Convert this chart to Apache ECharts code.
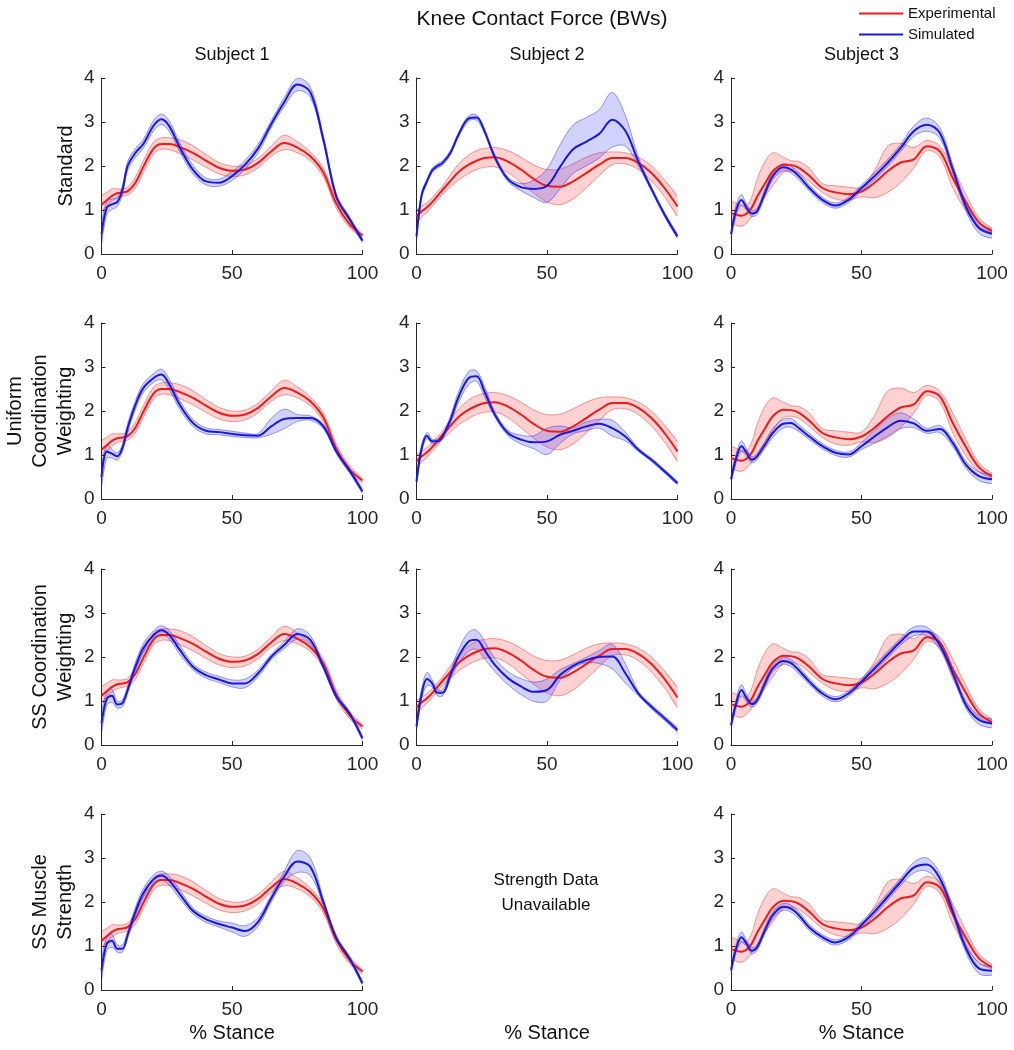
<!DOCTYPE html>
<html><head><meta charset="utf-8">
<script src="https://cdn.jsdelivr.net/npm/echarts@6/dist/echarts.min.js"></script>
<style>html,body{margin:0;padding:0;background:#fff}#c{width:1014px;height:1050px}</style>
</head><body><div id="c"></div>
<script>
// % stance sample points
const X = [0,2,4,6,8,10,13,16,20,23,26,30,35,40,45,50,55,60,65,70,75,80,85,90,95,100];

// Experimental (mean, lower, upper) per subject
const expS1Mean = [1.12,1.22,1.32,1.38,1.40,1.43,1.62,1.98,2.40,2.50,2.50,2.43,2.30,2.12,1.96,1.89,1.92,2.07,2.33,2.52,2.42,2.22,1.85,1.14,0.68,0.42];
const expS1Hi   = [1.33,1.40,1.48,1.48,1.48,1.52,1.75,2.12,2.55,2.64,2.64,2.60,2.46,2.26,2.08,2.00,2.02,2.18,2.45,2.70,2.55,2.32,1.95,1.24,0.76,0.46];
const expS1Lo   = [0.98,1.08,1.20,1.28,1.31,1.34,1.50,1.85,2.28,2.38,2.37,2.28,2.14,1.97,1.82,1.76,1.80,1.96,2.22,2.37,2.30,2.12,1.75,1.04,0.60,0.36];

const expS2Mean = [0.86,0.97,1.06,1.18,1.32,1.46,1.66,1.86,2.03,2.12,2.18,2.20,2.10,1.92,1.70,1.55,1.53,1.65,1.84,2.03,2.18,2.18,2.07,1.84,1.50,1.08];
const expS2Hi   = [1.00,1.09,1.17,1.28,1.42,1.55,1.80,2.04,2.25,2.35,2.40,2.42,2.35,2.20,2.02,1.92,1.93,2.05,2.20,2.30,2.32,2.30,2.20,2.00,1.68,1.30];
const expS2Lo   = [0.70,0.84,0.95,1.08,1.22,1.36,1.52,1.68,1.83,1.92,1.97,1.98,1.85,1.62,1.38,1.18,1.12,1.25,1.50,1.78,2.03,2.05,1.92,1.66,1.30,0.85];

const expS3Mean = [0.93,0.89,0.87,0.92,1.06,1.30,1.60,1.88,2.03,2.02,1.96,1.78,1.50,1.40,1.36,1.42,1.62,1.88,2.08,2.15,2.45,2.33,1.72,1.18,0.72,0.52];
const expS3Hi   = [1.20,1.15,1.10,1.10,1.30,1.70,2.10,2.30,2.20,2.12,2.10,1.95,1.60,1.55,1.52,1.52,1.90,2.45,2.52,2.42,2.58,2.45,1.95,1.35,0.82,0.58];
const expS3Lo   = [0.70,0.65,0.63,0.70,0.85,1.00,1.30,1.55,1.85,1.88,1.83,1.65,1.40,1.25,1.22,1.30,1.28,1.40,1.62,1.95,2.35,2.20,1.50,0.98,0.62,0.48];

// Simulated (mean, half-width) per panel
const simStd1Mean = [0.45,1.05,1.13,1.18,1.45,2.00,2.30,2.50,2.92,3.06,2.90,2.42,1.92,1.65,1.62,1.77,2.03,2.40,2.95,3.45,3.85,3.68,2.60,1.30,0.80,0.30];
const simStd1Sd   = [0.25,0.15,0.12,0.10,0.10,0.10,0.10,0.10,0.12,0.12,0.12,0.10,0.10,0.08,0.08,0.10,0.10,0.10,0.08,0.10,0.14,0.12,0.08,0.06,0.05,0.05];
const simStd2Mean = [0.40,1.35,1.65,1.90,2.00,2.07,2.30,2.70,3.08,3.10,2.80,2.20,1.70,1.52,1.48,1.55,1.98,2.38,2.55,2.73,3.05,2.80,2.10,1.48,0.90,0.40];
const simStd2Sd   = [0.10,0.06,0.05,0.05,0.05,0.05,0.05,0.05,0.06,0.06,0.05,0.05,0.05,0.08,0.20,0.38,0.50,0.55,0.55,0.55,0.62,0.35,0.10,0.05,0.05,0.05];
const simStd3Mean = [0.45,1.00,1.23,1.05,0.92,0.97,1.39,1.77,1.97,1.92,1.77,1.50,1.23,1.10,1.23,1.50,1.77,2.07,2.41,2.79,2.94,2.75,1.92,1.08,0.59,0.46];
const simStd3Sd   = [0.10,0.12,0.12,0.07,0.07,0.07,0.08,0.08,0.08,0.08,0.08,0.07,0.06,0.06,0.06,0.07,0.08,0.08,0.08,0.12,0.15,0.12,0.10,0.10,0.12,0.10];

const simUni1Mean = [0.50,1.08,1.03,0.97,1.16,1.61,2.14,2.52,2.75,2.83,2.60,2.14,1.73,1.55,1.52,1.48,1.45,1.44,1.65,1.82,1.84,1.84,1.65,1.08,0.65,0.17];
const simUni1Sd   = [0.25,0.15,0.10,0.08,0.08,0.10,0.10,0.10,0.10,0.12,0.12,0.10,0.08,0.07,0.06,0.06,0.05,0.05,0.18,0.22,0.08,0.05,0.05,0.05,0.05,0.05];
const simUni2Mean = [0.40,1.16,1.44,1.31,1.31,1.42,1.80,2.30,2.75,2.79,2.45,1.92,1.50,1.35,1.29,1.31,1.46,1.55,1.65,1.71,1.61,1.42,1.12,0.89,0.63,0.36];
const simUni2Sd   = [0.10,0.08,0.07,0.05,0.05,0.05,0.08,0.12,0.15,0.12,0.12,0.06,0.06,0.10,0.15,0.30,0.20,0.07,0.10,0.10,0.18,0.10,0.04,0.04,0.04,0.04];
const simUni3Mean = [0.45,0.93,1.20,1.05,0.89,0.97,1.23,1.50,1.71,1.73,1.61,1.42,1.20,1.05,1.01,1.20,1.42,1.63,1.78,1.72,1.55,1.59,1.27,0.78,0.52,0.45];
const simUni3Sd   = [0.10,0.10,0.12,0.08,0.07,0.07,0.08,0.10,0.10,0.10,0.08,0.07,0.06,0.06,0.06,0.08,0.15,0.20,0.18,0.10,0.06,0.08,0.08,0.08,0.10,0.10];

const simSs1Mean = [0.49,1.05,1.12,0.92,0.95,1.25,1.78,2.20,2.50,2.61,2.50,2.16,1.78,1.59,1.49,1.40,1.40,1.63,2.00,2.27,2.52,2.39,1.78,1.10,0.72,0.15];
const simSs1Sd   = [0.25,0.15,0.15,0.08,0.08,0.08,0.10,0.10,0.10,0.10,0.10,0.10,0.07,0.07,0.07,0.08,0.10,0.08,0.06,0.08,0.12,0.10,0.06,0.05,0.05,0.05];
const simSs2Mean = [0.42,1.17,1.50,1.40,1.19,1.19,1.59,2.00,2.35,2.39,2.16,1.82,1.52,1.33,1.21,1.25,1.59,1.80,1.93,2.00,2.01,1.63,1.17,0.87,0.61,0.34];
const simSs2Sd   = [0.10,0.12,0.15,0.08,0.07,0.07,0.10,0.15,0.22,0.22,0.20,0.15,0.15,0.18,0.22,0.25,0.12,0.05,0.06,0.15,0.28,0.22,0.05,0.05,0.05,0.05];
const simSs3Mean = [0.45,0.95,1.25,1.06,0.93,1.02,1.40,1.74,1.91,1.86,1.70,1.44,1.17,1.04,1.17,1.44,1.74,2.05,2.35,2.58,2.58,2.27,1.63,0.91,0.57,0.49];
const simSs3Sd   = [0.10,0.10,0.12,0.08,0.07,0.07,0.08,0.08,0.08,0.08,0.08,0.07,0.06,0.06,0.06,0.07,0.08,0.08,0.08,0.10,0.10,0.10,0.08,0.08,0.10,0.10];

const simStr1Mean = [0.45,1.05,1.12,0.94,0.94,1.25,1.78,2.20,2.52,2.60,2.48,2.18,1.80,1.61,1.50,1.42,1.34,1.55,2.08,2.58,2.92,2.80,2.00,1.17,0.72,0.15];
const simStr1Sd   = [0.25,0.15,0.15,0.08,0.08,0.08,0.10,0.10,0.10,0.10,0.10,0.10,0.07,0.07,0.07,0.10,0.12,0.10,0.08,0.12,0.25,0.20,0.08,0.05,0.05,0.05];
const simStr3Mean = [0.45,0.95,1.20,1.05,0.89,0.97,1.36,1.70,1.89,1.85,1.70,1.42,1.20,1.08,1.20,1.48,1.78,2.12,2.46,2.78,2.85,2.54,1.78,0.95,0.49,0.44];
const simStr3Sd   = [0.10,0.10,0.12,0.07,0.07,0.07,0.08,0.08,0.08,0.08,0.08,0.07,0.06,0.06,0.06,0.07,0.08,0.08,0.08,0.12,0.15,0.12,0.10,0.10,0.12,0.10];

// Labels
const xTicks = [0, 50, 100];
const yTicks = [0, 1, 2, 3, 4];
const subjectLabels = ['Subject 1', 'Subject 2', 'Subject 3'];
const rowLabels = ['Standard', 'Uniform\nCoordination\nWeighting', 'SS Coordination\nWeighting', 'SS Muscle\nStrength'];

// ---------- build ----------
const F = 'Liberation Sans, Arial, Helvetica, sans-serif';
const TXT = '#262626';
const RED = '#ec1c1c', BLUE = '#1818e0';
const RED_FILL = 'rgba(255,0,0,0.18)', RED_EDGE = 'rgba(240,40,40,0.45)';
const BLUE_FILL = 'rgba(30,30,255,0.2)', BLUE_EDGE = 'rgba(40,40,240,0.45)';
const SM = 0.35;

const exps = [
  {m: expS1Mean, lo: expS1Lo, hi: expS1Hi},
  {m: expS2Mean, lo: expS2Lo, hi: expS2Hi},
  {m: expS3Mean, lo: expS3Lo, hi: expS3Hi}
];
const panels = [
  {r:0,c:0,e:0,m:simStd1Mean,s:simStd1Sd},
  {r:0,c:1,e:1,m:simStd2Mean,s:simStd2Sd},
  {r:0,c:2,e:2,m:simStd3Mean,s:simStd3Sd},
  {r:1,c:0,e:0,m:simUni1Mean,s:simUni1Sd},
  {r:1,c:1,e:1,m:simUni2Mean,s:simUni2Sd},
  {r:1,c:2,e:2,m:simUni3Mean,s:simUni3Sd},
  {r:2,c:0,e:0,m:simSs1Mean,s:simSs1Sd},
  {r:2,c:1,e:1,m:simSs2Mean,s:simSs2Sd},
  {r:2,c:2,e:2,m:simSs3Mean,s:simSs3Sd},
  {r:3,c:0,e:0,m:simStr1Mean,s:simStr1Sd},
  {r:3,c:2,e:2,m:simStr3Mean,s:simStr3Sd}
];
const gridLeft = [101.5, 416.5, 731];
const gridTop = [78, 323, 569, 814];
const GW = 261, GH = 176;

const pairs = ys => X.map((x, i) => [x, ys[i]]);

function band(i, lo, hi, fill, edge, z) {
  return {
    type: 'custom', xAxisIndex: i, yAxisIndex: i, silent: true, z: z, animation: false,
    data: X.map((x, k) => [x, lo[k], hi[k]]),
    encode: {x: 0, y: [1, 2]},
    renderItem: function (params, api) {
      if (params.dataIndex !== 0) return null;
      const up = X.map((x, k) => api.coord([x, hi[k]]));
      const dn = X.map((x, k) => api.coord([x, lo[k]]));
      const cs = params.coordSys;
      return {
        type: 'group',
        clipPath: {type: 'rect', shape: {x: cs.x, y: cs.y - 1, width: cs.width, height: cs.height + 1}},
        children: [
          {type: 'polygon', shape: {points: up.concat(dn.slice().reverse()), smooth: SM}, style: {fill: fill, stroke: null}},
          {type: 'polyline', shape: {points: up, smooth: SM}, style: {stroke: edge, lineWidth: 1, fill: null}},
          {type: 'polyline', shape: {points: dn, smooth: SM}, style: {stroke: edge, lineWidth: 1, fill: null}}
        ]
      };
    }
  };
}

const grids = [], xAxes = [], yAxes = [], series = [];
panels.forEach((p, i) => {
  grids.push({left: gridLeft[p.c], top: gridTop[p.r], width: GW, height: GH});
  const axLine = {show: true, lineStyle: {color: TXT, width: 1}};
  const lab = {color: TXT, fontSize: 19, fontFamily: F};
  xAxes.push({gridIndex: i, type: 'value', min: xTicks[0], max: xTicks[xTicks.length-1], interval: xTicks[1]-xTicks[0],
    axisLine: axLine, axisTick: {show: true, inside: true, length: 4, lineStyle: {color: TXT}},
    axisLabel: Object.assign({margin: 10}, lab), splitLine: {show: false}});
  yAxes.push({gridIndex: i, type: 'value', min: yTicks[0], max: yTicks[yTicks.length-1], interval: yTicks[1]-yTicks[0],
    axisLine: axLine, axisTick: {show: true, inside: true, length: 4, lineStyle: {color: TXT}},
    axisLabel: Object.assign({margin: 7}, lab), splitLine: {show: false}});
  const e = exps[p.e];
  series.push(band(i, e.lo, e.hi, RED_FILL, RED_EDGE, 2));
  series.push(band(i, p.m.map((v, k) => v - p.s[k]), p.m.map((v, k) => v + p.s[k]), BLUE_FILL, BLUE_EDGE, 3));
  const common = {type: 'line', xAxisIndex: i, yAxisIndex: i, symbol: 'none', smooth: SM, silent: true, animation: false};
  series.push(Object.assign({}, common, {name: 'Experimental', data: pairs(e.m), lineStyle: {color: RED, width: 2}, itemStyle: {color: RED}, z: 4}));
  series.push(Object.assign({}, common, {name: 'Simulated', data: pairs(p.m), lineStyle: {color: BLUE, width: 2}, itemStyle: {color: BLUE}, z: 5}));
});

const graphic = [];
const txt = (x, y, text, size, extra) => Object.assign({type: 'text', x: x, y: y, silent: true,
  style: {text: text, fontSize: size, fontFamily: F, fill: '#111', align: 'center', verticalAlign: 'middle', lineHeight: 25}}, extra || {});
graphic.push(txt(542, 19, 'Knee Contact Force (BWs)', 21));
subjectLabels.forEach((s, c) => graphic.push(txt(gridLeft[c] + GW/2, 55, s, 18)));
const rowX = [66, 40, 53, 53];
rowLabels.forEach((s, r) => graphic.push(txt(rowX[r], gridTop[r] + GH/2, s, 20, {rotation: Math.PI/2})));
graphic.push(txt(546, 893, 'Strength Data\nUnavailable', 17));
[0,1,2].forEach(c => graphic.push(txt(gridLeft[c] + GW/2, 1033, '% Stance', 20)));

const chart = echarts.init(document.getElementById('c'), null, {renderer: 'canvas'});
chart.setOption({
  animation: false,
  backgroundColor: '#fff',
  legend: {data: ['Experimental', 'Simulated'], orient: 'vertical', left: 854, top: 1, itemWidth: 44, itemHeight: 2,
    icon: 'rect', itemGap: 6, selectedMode: false, textStyle: {fontSize: 15, fontFamily: F, color: '#111'}},
  grid: grids, xAxis: xAxes, yAxis: yAxes, series: series, graphic: graphic
});
</script></body></html>
